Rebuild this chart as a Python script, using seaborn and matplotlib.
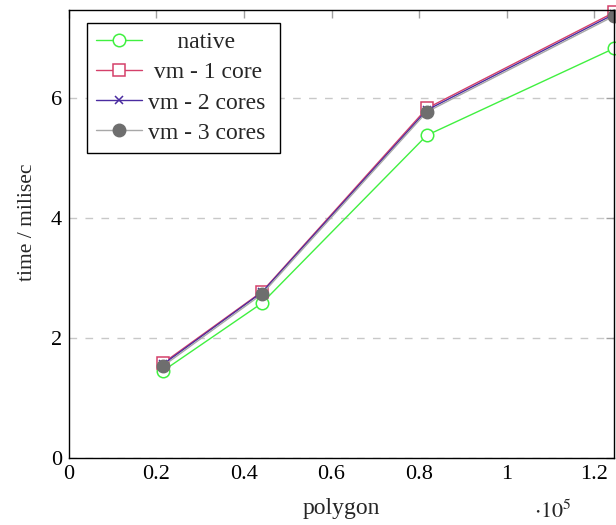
import matplotlib
matplotlib.use("Agg")
import matplotlib.pyplot as plt
import seaborn as sns
import pandas as pd

polygons = [21500, 44100, 81800, 124600]
native = [1.45, 2.58, 5.38, 6.83]
vm1 = [1.58, 2.77, 5.83, 7.43]
vm2 = [1.56, 2.76, 5.80, 7.40]
vm3 = [1.53, 2.73, 5.77, 7.37]
labels = ["native", "vm - 1 core", "vm - 2 cores", "vm - 3 cores"]
x_ticks = [0, 0.2, 0.4, 0.6, 0.8, 1.0, 1.2]
x_tick_labels = ["0", "0.2", "0.4", "0.6", "0.8", "1", "1.2"]
y_ticks = [0, 2, 4, 6]

sns.set_theme(style="white")
plt.rcParams["font.family"] = ["Liberation Serif", "DejaVu Serif"]
plt.rcParams["mathtext.fontset"] = "stix"

fig, ax = plt.subplots(figsize=(6.16, 5.25), dpi=100)
fig.subplots_adjust(left=0.112, right=0.997, top=0.981, bottom=0.128)

styles = [
    dict(color="#40f040", marker="o", mfc="white", mec="#40f040", ms=9, mew=1.1),
    dict(color="#d4406a", marker="s", mfc="white", mec="#d4406a", ms=8.5, mew=1.1),
    dict(color="#4a2ca0", marker="x", mfc="#4a2ca0", mec="#4a2ca0", ms=6, mew=1.1),
    dict(color="#a8a8a8", marker="o", mfc="#6e6e6e", mec="#6e6e6e", ms=9, mew=1.0),
]
series = [native, vm1, vm2, vm3]
xs = [p / 1e5 for p in polygons]
for vals, lab, st in zip(series, labels, styles):
    df = pd.DataFrame({"x": xs, "y": vals})
    sns.lineplot(data=df, x="x", y="y", ax=ax, label=lab, color=st["color"],
                 marker=st["marker"], markerfacecolor=st["mfc"],
                 markeredgecolor=st["mec"], markersize=st["ms"],
                 markeredgewidth=st["mew"], linewidth=1.0, clip_on=False)

ax.set_xlim(0, 1.246)
ax.set_ylim(0, 7.47)
ax.set_xticks(x_ticks)
ax.set_xticklabels(x_tick_labels)
ax.set_yticks(y_ticks)
ax.yaxis.grid(True, linestyle=(0, (5.5, 6)), color="#c8c8c8", linewidth=1.0)
ax.xaxis.grid(False)
ax.tick_params(direction="in", top=True, right=True, length=6, width=1,
               color="#a0a0a0", labelsize=16, labelcolor="black", pad=5)
for s in ax.spines.values():
    s.set_color("black")
    s.set_linewidth(1.0)

ax.set_xlabel("polygon", fontsize=17, labelpad=10)
ax.set_ylabel("time / milisec", fontsize=15.5, labelpad=10)
ax.yaxis.label.set_y(0.526)
ax.text(0.923, -0.145, r"$\cdot 10^{5}$", transform=ax.transAxes,
        fontsize=16, ha="right", va="bottom")

leg = ax.legend(loc="upper left", bbox_to_anchor=(0.033, 0.971), fontsize=17,
                frameon=True, fancybox=False, edgecolor="black",
                borderaxespad=0, handlelength=1.95, borderpad=0.38,
                labelspacing=0.36, handletextpad=0.25)
leg.get_frame().set_linewidth(1.0)
leg.get_frame().set_alpha(1)
pads = [5, 1, 0, 0]
for t, n in zip(leg.get_texts(), pads):
    t.set_text(" " * n + t.get_text() + " ")

fig.savefig("out.png", dpi=100)
